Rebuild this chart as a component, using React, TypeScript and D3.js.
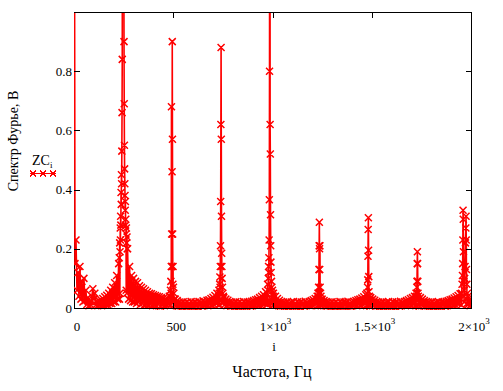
import React from 'react';
import * as d3 from 'd3';

// spectrum amplitude on a 5 Hz grid, 0..2000 Hz;
// the values that fall inside a peak window are replaced by the finer bins below
const baseAmps = [
  2.5, 0.15, 0.23, 0.06, 0.12, 0.04, 0.14, 0.03, 0.09, 0.02, 0.1, 0.025, 0.06, 0.012, 0.035, 0.008, 0.022, 0.01, 0.04, 0.065,
  0.03, 0.05, 0.01, 0.022, 0.008, 0.025, 0.01, 0.028, 0.008, 0.032, 0.01, 0.038, 0.012, 0.043, 0.012, 0.05, 0.015, 0.06, 0.015, 0.07,
  0.02, 0.085, 0.02, 0.11, 0.03, 0.15, 0.3, 0.4, 0.5, 0.6, 0.6, 0.5, 0.4, 0.3, 0.2, 0.03, 0.14, 0.025, 0.11, 0.02,
  0.1, 0.02, 0.09, 0.015, 0.085, 0.02, 0.075, 0.012, 0.07, 0.015, 0.065, 0.01, 0.06, 0.012, 0.055, 0.01, 0.05, 0.012, 0.048, 0.008,
  0.045, 0.01, 0.042, 0.008, 0.04, 0.012, 0.038, 0.006, 0.035, 0.01, 0.033, 0.008, 0.03, 0.01, 0.032, 0.012, 0.04, 0.02, 0.1, 0.2,
  0.2, 0.1, 0.03, 0.008, 0.025, 0.006, 0.02, 0.008, 0.018, 0.004, 0.021, 0.007, 0.017, 0.005, 0.02, 0.008, 0.016, 0.006, 0.022, 0.007,
  0.018, 0.005, 0.02, 0.008, 0.017, 0.004, 0.022, 0.009, 0.019, 0.006, 0.024, 0.008, 0.022, 0.01, 0.026, 0.008, 0.028, 0.012, 0.032, 0.01,
  0.036, 0.012, 0.042, 0.015, 0.05, 0.02, 0.1, 0.2, 0.3, 0.2, 0.1, 0.035, 0.012, 0.03, 0.008, 0.026, 0.01, 0.022, 0.006, 0.02,
  0.008, 0.018, 0.005, 0.021, 0.007, 0.017, 0.004, 0.02, 0.008, 0.016, 0.006, 0.022, 0.007, 0.018, 0.005, 0.02, 0.009, 0.019, 0.006, 0.023,
  0.008, 0.025, 0.01, 0.028, 0.012, 0.03, 0.01, 0.035, 0.012, 0.04, 0.015, 0.045, 0.015, 0.055, 0.02, 0.1, 0.2, 0.3, 0.2, 0.1,
  0.1, 0.05, 0.012, 0.04, 0.01, 0.032, 0.008, 0.026, 0.006, 0.022, 0.008, 0.02, 0.005, 0.018, 0.007, 0.021, 0.004, 0.017, 0.008, 0.02,
  0.006, 0.022, 0.008, 0.016, 0.005, 0.021, 0.007, 0.018, 0.004, 0.02, 0.009, 0.017, 0.006, 0.023, 0.008, 0.019, 0.01, 0.022, 0.008, 0.025,
  0.01, 0.028, 0.012, 0.032, 0.015, 0.04, 0.1, 0.2, 0.2, 0.1, 0.03, 0.01, 0.025, 0.008, 0.022, 0.006, 0.02, 0.008, 0.018, 0.005,
  0.021, 0.007, 0.017, 0.004, 0.02, 0.008, 0.016, 0.006, 0.022, 0.007, 0.018, 0.005, 0.02, 0.009, 0.019, 0.006, 0.023, 0.008, 0.017, 0.005,
  0.02, 0.008, 0.022, 0.01, 0.025, 0.008, 0.028, 0.012, 0.03, 0.01, 0.034, 0.012, 0.038, 0.015, 0.045, 0.1, 0.2, 0.2, 0.1, 0.035,
  0.012, 0.03, 0.01, 0.026, 0.006, 0.022, 0.008, 0.02, 0.005, 0.018, 0.007, 0.021, 0.004, 0.017, 0.008, 0.02, 0.006, 0.022, 0.008, 0.016,
  0.005, 0.021, 0.007, 0.018, 0.004, 0.02, 0.009, 0.017, 0.006, 0.023, 0.008, 0.019, 0.01, 0.022, 0.008, 0.025, 0.01, 0.028, 0.012, 0.032,
  0.01, 0.035, 0.012, 0.04, 0.1, 0.15, 0.2, 0.1, 0.05, 0.035, 0.01, 0.03, 0.008, 0.025, 0.006, 0.022, 0.008, 0.02, 0.005, 0.018,
  0.007, 0.021, 0.004, 0.017, 0.008, 0.02, 0.006, 0.022, 0.007, 0.018, 0.005, 0.02, 0.009, 0.019, 0.006, 0.023, 0.008, 0.025, 0.01, 0.028,
  0.012, 0.03, 0.01, 0.034, 0.012, 0.038, 0.015, 0.042, 0.015, 0.048, 0.1, 0.1, 0.1, 0.1, 0.1, 0.1, 0.1, 0.1, 0.02, 0.008,
  0.022,
];
const baseStep = 5;

// finer bins around each harmonic: [Hz, amplitude]
const peak1 = [[228, 0.17], [229, 0.03], [230, 0.22], [231, 0.05], [232, 0.19], [233, 0.27], [234, 0.23], [235, 0.31], [236, 0.28], [237, 0.39], [238, 0.35], [239, 0.45], [240, 0.42], [241, 0.53], [242, 0.66], [243, 0.84], [244, 1.4], [246, 1.9], [248, 2.2], [250, 1.7], [251, 1.2], [252, 0.9], [253, 0.69], [254, 0.55], [255, 0.47], [256, 0.42], [257, 0.38], [258, 0.33], [259, 0.36], [260, 0.28], [261, 0.3], [262, 0.25], [263, 0.06], [264, 0.27], [265, 0.22], [266, 0.05], [267, 0.24], [268, 0.2]];
const peak2 = [[484, 0.04], [486, 0.06], [487, 0.01], [488, 0.09], [489, 0.05], [490, 0.14], [491, 0.68], [492, 0.25], [493, 0.14], [494, 0.46], [495, 0.9], [496, 0.57], [497, 0.25], [498, 0.08], [499, 0.14], [500, 0.02], [501, 0.07], [503, 0.05], [504, 0.01], [506, 0.03]];
const peak3 = [[728, 0.04], [729, 0.01], [730, 0.06], [732, 0.05], [733, 0.01], [734, 0.08], [735, 0.105], [736, 0.07], [737, 0.14], [738, 0.21], [739, 0.36], [740, 0.62], [741, 0.88], [742, 0.57], [743, 0.31], [744, 0.185], [745, 0.14], [746, 0.1], [747, 0.02], [748, 0.07], [749, 0.015], [750, 0.05], [752, 0.04]];
const peak4 = [[972, 0.05], [973, 0.01], [975, 0.08], [976, 0.015], [977, 0.06], [979, 0.1], [980, 0.14], [981, 0.12], [982, 0.17], [983, 0.23], [984, 0.366], [985, 0.8], [986, 1.6], [987, 2.0], [988, 0.62], [989, 0.52], [990, 0.315], [991, 0.21], [992, 0.155], [993, 0.12], [994, 0.03], [995, 0.09], [996, 0.02], [997, 0.07], [998, 0.015], [1000, 0.06], [1002, 0.01], [1004, 0.04]];
const peak5 = [[1226, 0.03], [1228, 0.008], [1229, 0.05], [1231, 0.04], [1232, 0.07], [1233, 0.05], [1234, 0.13], [1235, 0.21], [1236, 0.29], [1237, 0.2], [1238, 0.13], [1239, 0.21], [1240, 0.07], [1241, 0.01], [1242, 0.05], [1244, 0.04], [1245, 0.008], [1246, 0.025]];
const peak6 = [[1472, 0.03], [1474, 0.008], [1475, 0.05], [1477, 0.04], [1479, 0.07], [1480, 0.095], [1481, 0.175], [1482, 0.265], [1483, 0.305], [1484, 0.195], [1485, 0.106], [1486, 0.055], [1487, 0.01], [1488, 0.04], [1490, 0.03], [1491, 0.006], [1492, 0.025]];
const peak7 = [[1720, 0.03], [1722, 0.008], [1723, 0.05], [1725, 0.04], [1727, 0.07], [1728, 0.09], [1729, 0.15], [1730, 0.19], [1731, 0.15], [1732, 0.09], [1733, 0.05], [1734, 0.01], [1735, 0.04], [1738, 0.03], [1739, 0.006], [1740, 0.02]];
const peak8 = [[1950, 0.03], [1952, 0.01], [1953, 0.05], [1955, 0.08], [1957, 0.11], [1958, 0.15], [1959, 0.23], [1960, 0.33], [1961, 0.3], [1962, 0.19], [1964, 0.09], [1965, 0.02], [1966, 0.06], [1968, 0.1], [1970, 0.14], [1972, 0.22], [1974, 0.27], [1975, 0.31], [1976, 0.23], [1977, 0.13], [1979, 0.08], [1980, 0.015], [1982, 0.05], [1984, 0.01], [1985, 0.04], [1988, 0.025]];
const peaks = [peak1, peak2, peak3, peak4, peak5, peak6, peak7, peak8];

const yTicks = [0, 0.2, 0.4, 0.6, 0.8];
const xTicks = [0, 500, 1000, 1500, 2000];
const xTickLabels = [['0', ''], ['500', ''], ['1×10', '3'], ['1.5×10', '3'], ['2×10', '3']];

const RED = '#ff0000';
const FONT = '"Liberation Serif", "Times New Roman", serif';

export default function App() {
  const width = 503;
  const height = 391;
  const x = d3.scaleLinear().domain([0, 2000]).range([74, 471]);
  const y = d3.scaleLinear().domain([0, 1]).range([308, 12]);

  // merge the coarse grid with the finer bins around the peaks
  const windows = peaks.map(p => [p[0][0], p[p.length - 1][0]]);
  const base = baseAmps
    .map((a, i) => [i * baseStep, a])
    .filter(([f]) => !windows.some(([lo, hi]) => f >= lo && f <= hi));
  const pts = base.concat(...peaks).sort((a, b) => a[0] - b[0]);

  const line = d3.line<number[]>().x(d => x(d[0])).y(d => y(d[1]));
  const m = 3.5;
  const markerPath = pts
    .map(d => {
      const cx = x(d[0]);
      const cy = y(d[1]);
      return `M${cx - m},${cy - m}L${cx + m},${cy + m}M${cx - m},${cy + m}L${cx + m},${cy - m}`;
    })
    .join('');

  const [x0, x1] = x.range();
  const [y0, y1] = y.range();

  return (
    <svg width={width} height={height} style={{ position: 'absolute', left: 0, top: 0, background: '#fff' }}>
      <defs>
        <clipPath id="plot">
          <rect x={x0} y={y1} width={x1 - x0 + 1} height={y0 - y1 + 2} />
        </clipPath>
      </defs>
      <line x1={x0 + 0.5} x2={x0 + 0.5} y1={y1} y2={y0} stroke="#000" />
      <g clipPath="url(#plot)">
        <path d={line(pts) || ''} fill="none" stroke={RED} strokeWidth={1.6} />
        <path d={markerPath} fill="none" stroke={RED} strokeWidth={1.5} />
      </g>
      {/* frame */}
      <g stroke="#000" strokeWidth={1} shapeRendering="crispEdges">
        <line x1={x0} x2={x1 + 1} y1={y1 + 0.5} y2={y1 + 0.5} />
        <line x1={x0} x2={x1 + 1} y1={y0 + 0.5} y2={y0 + 0.5} />
        <line x1={x1 + 0.5} x2={x1 + 0.5} y1={y1} y2={y0} />
        {yTicks.map(t => (
          <g key={'yt' + t}>
            <line x1={x0} x2={x0 + 6} y1={Math.round(y(t)) + 0.5} y2={Math.round(y(t)) + 0.5} />
            <line x1={x1 - 5} x2={x1 + 1} y1={Math.round(y(t)) + 0.5} y2={Math.round(y(t)) + 0.5} />
          </g>
        ))}
        {xTicks.slice(1, -1).map(t => (
          <g key={'xt' + t}>
            <line x1={Math.round(x(t)) + 0.5} x2={Math.round(x(t)) + 0.5} y1={y1} y2={y1 + 6} />
            <line x1={Math.round(x(t)) + 0.5} x2={Math.round(x(t)) + 0.5} y1={y0 - 5} y2={y0 + 1} />
          </g>
        ))}
      </g>
      <g fontFamily={FONT} fontSize={13} fill="#000">
        {yTicks.map(t => (
          <text key={'yl' + t} x={72} y={y(t) + 4.5} textAnchor="end">
            {t === 0 ? '0' : d3.format('.1f')(t)}
          </text>
        ))}
        {xTicks.map((t, i) => (
          <text key={'xl' + t} x={x(t) + 3} y={331} textAnchor="middle">
            {xTickLabels[i][0]}
            {xTickLabels[i][1] && (
              <tspan fontSize={9} dy={-7}>{xTickLabels[i][1]}</tspan>
            )}
          </text>
        ))}
        <text x={274} y={351} textAnchor="middle">i</text>
        {/* legend */}
        <text x={32} y={165} fontSize={14}>ZC<tspan fontSize={9} dy={3}>i</tspan></text>
      </g>
      <g stroke={RED} strokeWidth={1} fill="none" shapeRendering="crispEdges">
        <line x1={30} x2={56} y1={173.5} y2={173.5} />
        {[33, 43, 53].map(c => (
          <path key={c} d={`M${c - 3},${170.5}L${c + 3},${176.5}M${c - 3},${176.5}L${c + 3},${170.5}`} />
        ))}
      </g>
      <text x={272} y={377} textAnchor="middle" fontFamily={FONT} fontSize={16}>Частота, Гц</text>
      <text transform="translate(18,141) rotate(-90)" textAnchor="middle" fontFamily={FONT} fontSize={14}>Спектр Фурье, В</text>
    </svg>
  );
}
